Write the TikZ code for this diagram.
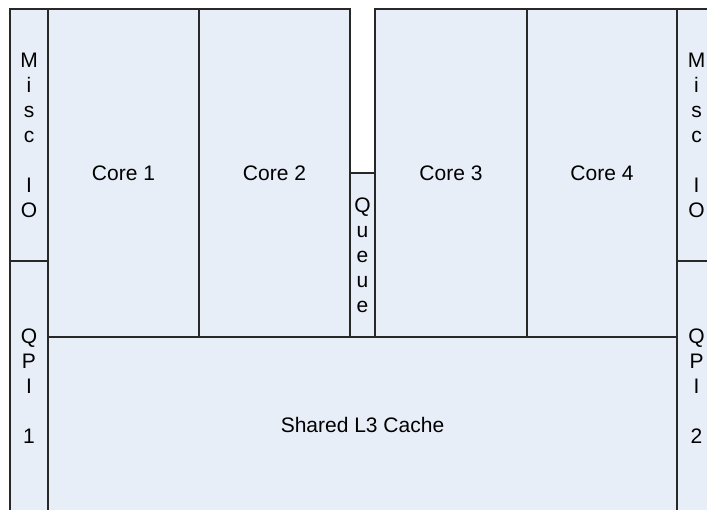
\documentclass[tikz,border=0pt]{standalone}
\usepackage{fontspec}
\setmainfont{Liberation Sans}
\definecolor{boxfill}{RGB}{232,238,247}
\definecolor{boxline}{RGB}{40,40,40}
\begin{document}
\begin{tikzpicture}[x=1pt,y=-1pt,
  blk/.style={draw=boxline, line width=1.2pt, fill=boxfill, inner sep=0pt, outer sep=0pt, anchor=north west, align=center, font=\fontsize{21}{25}\selectfont}]
\useasboundingbox (0,0) rectangle (707,510);
\clip (0,0) rectangle (707,510);
\fill[white] (0,0) rectangle (707,510);
\node[blk, minimum width=38pt, minimum height=252pt] (misc1) at (10,9) {M\\i\\s\\c\\~\\I\\O};
\node[blk, minimum width=38pt, minimum height=251pt] (qpi1) at (10,261) {Q\\P\\I\\~\\1};
\node[blk, minimum width=151pt, minimum height=328pt] (core1) at (48,9) {Core 1};
\node[blk, minimum width=151pt, minimum height=328pt] (core2) at (199,9) {Core 2};
\node[blk, minimum width=25pt, minimum height=164pt] (queue) at (350,173) {Q\\u\\e\\u\\e};
\node[blk, minimum width=152pt, minimum height=328pt] (core3) at (375,9) {Core 3};
\node[blk, minimum width=150pt, minimum height=328pt] (core4) at (527,9) {Core 4};
\node[blk, minimum width=39pt, minimum height=252pt] (misc2) at (677,9) {M\\i\\s\\c\\~\\I\\O};
\node[blk, minimum width=39pt, minimum height=251pt] (qpi2) at (677,261) {Q\\P\\I\\~\\2};
\node[blk, minimum width=629pt, minimum height=175pt] (cache) at (48,337) {Shared L3 Cache};
\end{tikzpicture}
\end{document}
